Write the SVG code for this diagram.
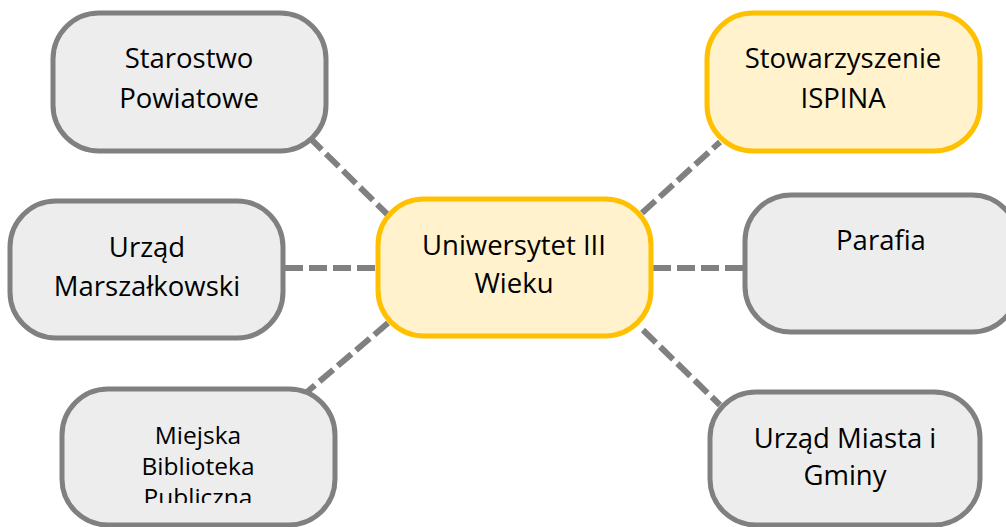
<svg xmlns="http://www.w3.org/2000/svg" width="1006" height="527" viewBox="0 0 1006 527">
  <defs>
    <style>
      .gray { fill: #EDEDED; stroke: #808080; stroke-width: 5; }
      .gold { fill: #FFF2CC; stroke: #FFC000; stroke-width: 5; }
      .lbl { font-family: "Open Sans", "Noto Sans", sans-serif; font-size: 27.5px; fill: #000; text-anchor: middle; }
      .small { font-size: 24.5px; }
      .link { stroke: #808080; stroke-width: 6; stroke-dasharray: 18 6; fill: none; }
    </style>
    <clipPath id="libClip">
      <rect x="60" y="387" width="280" height="116"/>
    </clipPath>
  </defs>
  <rect width="1006" height="527" fill="#FFFFFF"/>

  <g id="connectors">
    <line class="link" x1="390" y1="217" x2="312" y2="140"/>
    <line class="link" x1="375" y1="268" x2="285" y2="268"/>
    <line class="link" x1="388" y1="323" x2="307" y2="392"/>
    <line class="link" x1="642" y1="213" x2="720" y2="142"/>
    <line class="link" x1="653" y1="268" x2="745" y2="268"/>
    <line class="link" x1="643" y1="330" x2="720" y2="405"/>
  </g>

  <g id="starostwo">
    <rect class="gray" x="53" y="13" width="273" height="138" rx="46"/>
    <text class="lbl" x="189" y="68">Starostwo</text>
    <text class="lbl" x="189" y="108">Powiatowe</text>
  </g>

  <g id="marszalkowski">
    <rect class="gray" x="10" y="201" width="273" height="137" rx="46"/>
    <text class="lbl" x="147" y="257">Urząd</text>
    <text class="lbl" x="147" y="296">Marszałkowski</text>
  </g>

  <g id="biblioteka">
    <rect class="gray" x="62" y="389" width="273" height="136" rx="46"/>
    <g clip-path="url(#libClip)">
      <text class="lbl small" x="198" y="444">Miejska</text>
      <text class="lbl small" x="198" y="475">Biblioteka</text>
      <text class="lbl small" x="198" y="506">Publiczna</text>
    </g>
  </g>

  <g id="uniwersytet">
    <rect class="gold" x="378" y="199" width="273" height="137" rx="46"/>
    <text class="lbl" x="514" y="255">Uniwersytet III</text>
    <text class="lbl" x="514" y="293">Wieku</text>
  </g>

  <g id="stowarzyszenie">
    <rect class="gold" x="707" y="13" width="273" height="138" rx="46"/>
    <text class="lbl" x="843" y="68">Stowarzyszenie</text>
    <text class="lbl" x="843" y="108">ISPINA</text>
  </g>

  <g id="parafia">
    <rect class="gray" x="745" y="195" width="273" height="137" rx="46"/>
    <text class="lbl" x="881" y="250">Parafia</text>
  </g>

  <g id="urzad-miasta">
    <rect class="gray" x="710" y="392" width="270" height="133" rx="46"/>
    <text class="lbl" x="845" y="448">Urząd Miasta i</text>
    <text class="lbl" x="845" y="485">Gminy</text>
  </g>
</svg>
